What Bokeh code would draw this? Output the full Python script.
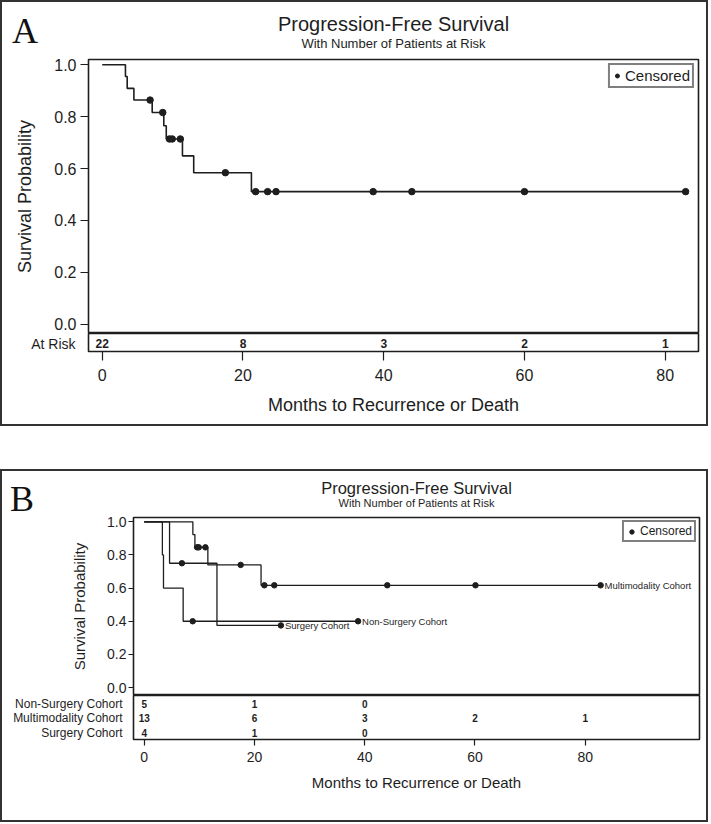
from bokeh.plotting import figure
from bokeh.models import (Range1d, FixedTicker, Title, NumeralTickFormatter,
                          Legend, LegendItem, Div)
from bokeh.layouts import column
from bokeh.embed import file_html
from bokeh.resources import INLINE
from bokeh.core.properties import value

FONT = "Liberation Sans"
INK = "#1e1e1e"

# ---------------- data: panel A (all patients) ----------------
a_step_time = [0, 3.3, 3.55, 4.5, 7.1, 8.75, 9.1, 11.4, 13.0, 21.2, 82.9]
a_step_surv = [1.0, 0.955, 0.909, 0.864, 0.816, 0.765, 0.714, 0.649, 0.584, 0.511, 0.511]
a_cens_time = [6.8, 8.6, 9.55, 9.95, 11.1, 17.5, 21.8, 23.5, 24.7, 38.5, 44.0, 60.0, 82.9]
a_cens_surv = [0.864, 0.816, 0.714, 0.714, 0.714, 0.584, 0.511, 0.511, 0.511, 0.511, 0.511, 0.511, 0.511]
risk_times = [0, 20, 40, 60, 80]
a_risk_label = ["At Risk"]
a_at_risk = [22, 8, 3, 2, 1]

# ---------------- data: panel B (cohorts) ----------------
cohorts = ["Non-Surgery Cohort", "Multimodality Cohort", "Surgery Cohort"]
nons_step_time = [0, 3.3, 3.5, 7.07, 38.8]
nons_step_surv = [1.0, 0.8, 0.6, 0.4, 0.4]
nons_cens_time = [8.8, 38.8]
nons_cens_surv = [0.4, 0.4]
multi_step_time = [0, 8.83, 9.2, 11.55, 21.2, 82.8]
multi_step_surv = [1.0, 0.923, 0.846, 0.740, 0.617, 0.617]
multi_cens_time = [9.6, 9.9, 11.1, 17.5, 21.8, 23.6, 44.1, 60.1, 82.8]
multi_cens_surv = [0.846, 0.846, 0.846, 0.740, 0.617, 0.617, 0.617, 0.617, 0.617]
surg_step_time = [0, 4.6, 13.2, 24.8]
surg_step_surv = [1.0, 0.75, 0.375, 0.375]
surg_cens_time = [6.84, 24.8]
surg_cens_surv = [0.75, 0.375]
nons_at_risk = [5, 1, 0]
multi_at_risk = [13, 6, 3, 2, 1]
surg_at_risk = [4, 1, 0]

y_ticks = [0.0, 0.2, 0.4, 0.6, 0.8, 1.0]
x_ticks = [0, 20, 40, 60, 80]

TITLE = "Progression-Free Survival"
SUBTITLE = "With Number of Patients at Risk"
XLABEL = "Months to Recurrence or Death"
YLABEL = "Survival Probability"


def base_axis(ax, tick_fs, label_fs):
    ax.axis_line_color = None
    ax.major_tick_line_color = INK
    ax.major_tick_line_width = 1.2
    ax.minor_tick_line_color = None
    ax.major_tick_in = 0
    ax.major_label_text_font = FONT
    ax.major_label_text_font_size = tick_fs
    ax.major_label_text_color = INK
    ax.axis_label_text_font = FONT
    ax.axis_label_text_font_style = "normal"
    ax.axis_label_text_font_size = label_fs
    ax.axis_label_text_color = INK


def style_main(p, tick_fs, label_fs, tick_out, standoff, label_standoff):
    p.grid.visible = False
    p.outline_line_color = INK
    p.outline_line_width = 1.6
    ax = p.yaxis[0]
    base_axis(ax, tick_fs, label_fs)
    ax.ticker = FixedTicker(ticks=y_ticks)
    ax.formatter = NumeralTickFormatter(format="0.0")
    ax.major_tick_out = tick_out
    ax.major_label_standoff = standoff
    ax.axis_label = YLABEL
    ax.axis_label_standoff = label_standoff


def style_risk(r, ticks, labels, lab_fs, lab_standoff, tick_fs, xlabel_fs,
               tick_out, standoff, xlabel_standoff):
    r.grid.visible = False
    r.outline_line_color = INK
    r.outline_line_width = 1.6
    ya = r.yaxis[0]
    base_axis(ya, lab_fs, lab_fs)
    ya.ticker = FixedTicker(ticks=ticks)
    ya.major_label_overrides = dict(zip(ticks, labels))
    ya.major_tick_line_color = None
    ya.major_tick_out = 0
    ya.major_label_standoff = lab_standoff
    xa = r.xaxis[0]
    base_axis(xa, tick_fs, xlabel_fs)
    xa.ticker = FixedTicker(ticks=x_ticks)
    xa.major_tick_out = tick_out
    xa.major_label_standoff = standoff
    xa.axis_label = XLABEL
    xa.axis_label_standoff = xlabel_standoff


def add_titles(p, tfs, sfs, sub_standoff, title_standoff):
    p.add_layout(Title(text=SUBTITLE, align="center", text_font=FONT, text_font_size=sfs,
                       text_font_style="normal", text_color=INK, standoff=sub_standoff), "above")
    p.add_layout(Title(text=TITLE, align="center", text_font=FONT, text_font_size=tfs,
                       text_font_style="normal", text_color=INK, standoff=title_standoff), "above")


def add_legend(p, renderer, fs, glyph_w, glyph_h, pad, margin):
    leg = Legend(items=[LegendItem(label="Censored", renderers=[renderer])],
                 location="top_right", label_text_font=FONT, label_text_font_size=fs,
                 label_text_color=INK, label_text_line_height=1.0,
                 glyph_width=glyph_w, glyph_height=glyph_h,
                 label_height=glyph_h, label_standoff=3, padding=pad, margin=margin,
                 spacing=0, border_line_color="#000000", border_line_width=2.2,
                 background_fill_alpha=1.0)
    p.add_layout(leg, "center")


def letter(txt, left, top):
    return Div(text=txt, styles={"position": "absolute", "left": f"{left}px", "top": f"{top}px",
                                 "font-family": "'Liberation Serif', serif", "font-size": "36px",
                                 "line-height": "36px", "color": "#111111", "z-index": "10"})


BOX = {"border": "2px solid #333333", "position": "relative"}
W = 704
COMMON = dict(output_backend="svg", toolbar_location=None, title=None)

# ====================== Panel A ======================
xr_a = Range1d(-1.95, 84.73)
pa = figure(width=W, height=331, x_range=xr_a, y_range=Range1d(-0.0359, 1.0204),
            x_axis_location=None, min_border_left=86, min_border_right=8,
            min_border_top=57, min_border_bottom=0, **COMMON)
style_main(pa, "16px", "18px", 8, 4, 16)
add_titles(pa, "20px", "13px", 18, -21)
pa.step(a_step_time, a_step_surv, mode="after", line_color=INK, line_width=1.6)
ca = pa.scatter(a_cens_time, a_cens_surv, size=6.5, color=INK)
add_legend(pa, ca, "15px", 10, 13, 2, 4)

ra = figure(width=W, height=91, x_range=xr_a, y_range=Range1d(0.556, 1.556),
            min_border_left=86, min_border_right=8, min_border_top=0, min_border_bottom=73,
            **COMMON)
style_risk(ra, [1], a_risk_label, "14px", 13, "16px", "18px", 9, 8, 11)
ra.text(x=risk_times, y=[1] * len(risk_times), text=[str(v) for v in a_at_risk],
        text_font=value(FONT), text_font_style="bold", text_font_size="12px",
        text_align="center", text_baseline="middle", text_color=INK)

col_a = column(pa, ra, letter("A", 5, 6), spacing=0, styles=BOX)

# ====================== Panel B ======================
xr_b = Range1d(-1.94, 100.74)
pb = figure(width=W, height=224, x_range=xr_b, y_range=Range1d(-0.048, 1.026),
            x_axis_location=None, min_border_left=131, min_border_right=7,
            min_border_top=46, min_border_bottom=0, **COMMON)
style_main(pb, "14px", "15px", 5, 2, 16)
add_titles(pb, "16.5px", "11px", 18, -23)
curves = [
    (nons_step_time, nons_step_surv, nons_cens_time, nons_cens_surv),
    (multi_step_time, multi_step_surv, multi_cens_time, multi_cens_surv),
    (surg_step_time, surg_step_surv, surg_cens_time, surg_cens_surv),
]
cens_renderers = []
for (st, ss, ct, cs) in curves:
    pb.step(st, ss, mode="after", line_color=INK, line_width=1.3)
    cens_renderers.append(pb.scatter(ct, cs, size=5.5, color=INK))
for name, (st, ss, ct, cs) in zip(cohorts, curves):
    pb.text(x=[ct[-1]], y=[cs[-1]], text=[name], x_offset=4,
            text_font=value(FONT), text_font_size="9.5px", text_align="left",
            text_baseline="middle", text_color=INK)
add_legend(pb, cens_renderers[0], "12px", 11, 11, 2, 3)

row_pos = [3, 2, 1]
rb = figure(width=W, height=125, x_range=xr_b, y_range=Range1d(0.538, 3.572),
            min_border_left=131, min_border_right=7, min_border_top=0, min_border_bottom=81,
            **COMMON)
style_risk(rb, row_pos, cohorts, "12px", 11, "14px", "15px", 6, 6, 9)
for yv, counts in zip(row_pos, [nons_at_risk, multi_at_risk, surg_at_risk]):
    rb.text(x=risk_times[:len(counts)], y=[yv] * len(counts), text=[str(v) for v in counts],
            text_font=value(FONT), text_font_style="bold", text_font_size="10px",
            text_align="center", text_baseline="middle", text_color=INK)

col_b = column(pb, rb, letter("B", 3, 5), spacing=0, styles=BOX)

page = column(col_a, col_b, spacing=43)
open("out.html", "w").write(file_html(page, INLINE))
